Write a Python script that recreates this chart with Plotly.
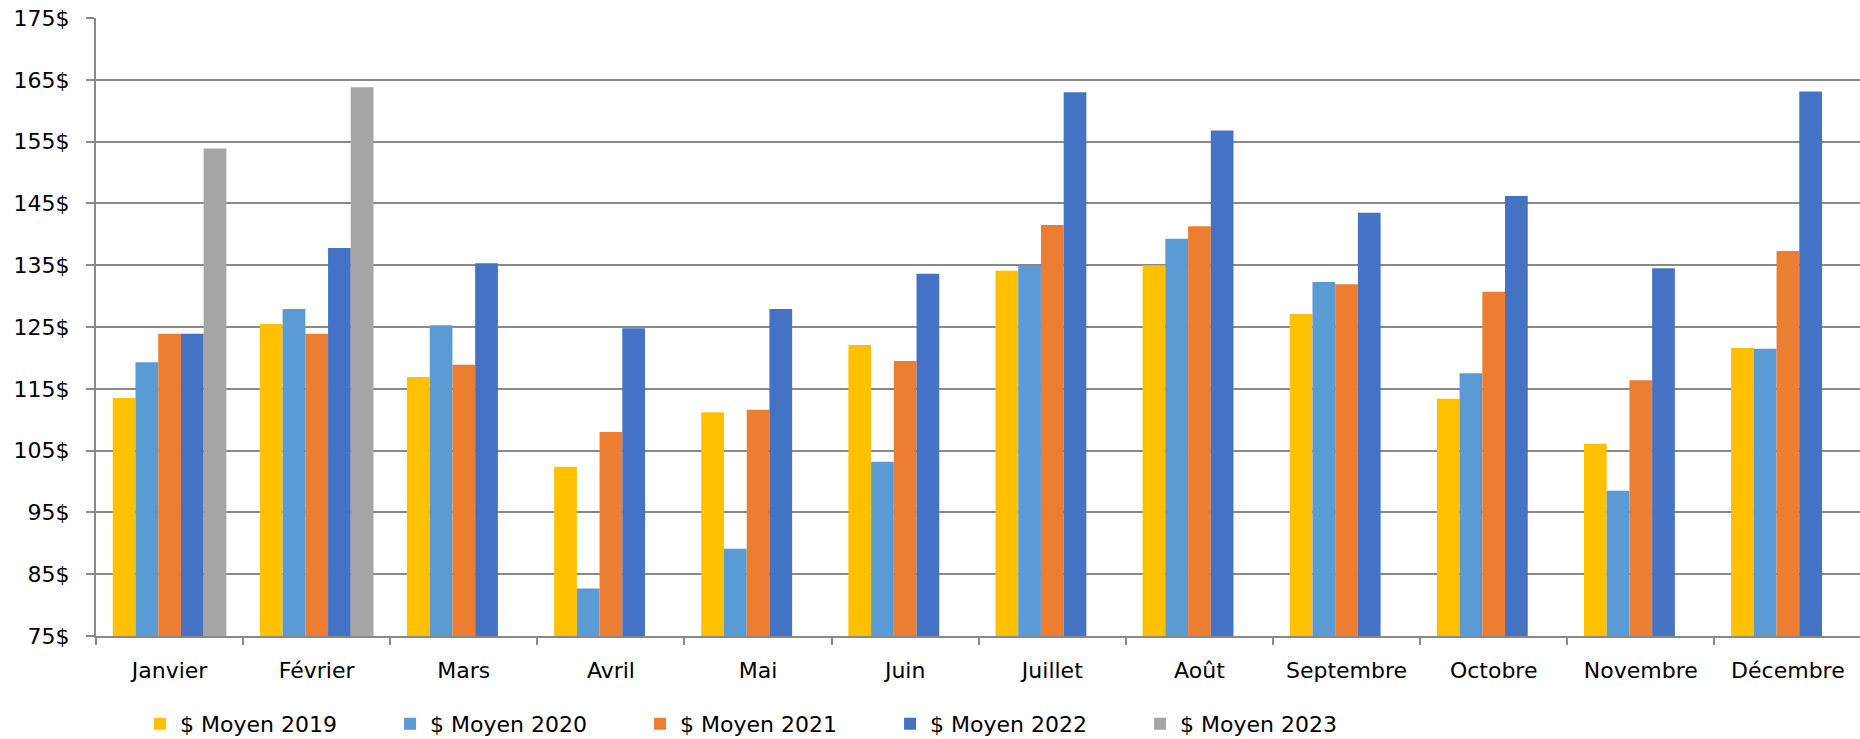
import plotly.graph_objects as go

# mois et prix moyens par annee
mois = ["Janvier", "Février", "Mars", "Avril", "Mai", "Juin", "Juillet",
        "Août", "Septembre", "Octobre", "Novembre", "Décembre"]

moyen_2019 = [113.5, 125.5, 116.9, 102.4, 111.2, 122.1, 134.1, 135.0, 127.1, 113.4, 106.1, 121.6]
moyen_2020 = [119.3, 127.9, 125.3, 82.7, 89.1, 103.2, 134.9, 139.3, 132.3, 117.5, 98.5, 121.5]
moyen_2021 = [123.9, 123.9, 118.9, 108.0, 111.6, 119.5, 141.5, 141.3, 131.9, 130.7, 116.4, 137.3]
moyen_2022 = [123.9, 137.8, 135.3, 124.8, 127.9, 133.6, 163.0, 156.8, 143.5, 146.2, 134.5, 163.1]
moyen_2023 = [153.9, 163.8, None, None, None, None, None, None, None, None, None, None]

series = [
    ("$ Moyen 2019", moyen_2019, "#FFC000"),
    ("$ Moyen 2020", moyen_2020, "#5B9BD5"),
    ("$ Moyen 2021", moyen_2021, "#ED7D31"),
    ("$ Moyen 2022", moyen_2022, "#4472C4"),
    ("$ Moyen 2023", moyen_2023, "#A5A5A5"),
]

fig = go.Figure()
for nom, valeurs, couleur in series:
    fig.add_trace(go.Bar(x=mois, y=valeurs, name=nom,
                         marker=dict(color=couleur, line=dict(width=0))))

police = dict(family="DejaVu Sans", size=22, color="#000000")

fig.update_layout(
    width=1860, height=739,
    margin=dict(l=96, r=0, t=18, b=103),
    paper_bgcolor="white", plot_bgcolor="white",
    barmode="group", bargap=0.228, bargroupgap=0,
    font=police,
    showlegend=True,
    legend=dict(orientation="h", xref="container", yref="container",
                x=0.0753, y=0.0205, xanchor="left", yanchor="middle",
                entrywidth=205, entrywidthmode="pixels",
                font=police, traceorder="normal"),
)

fig.update_xaxes(
    type="category", range=[-0.5, 11.49], automargin=False,
    showline=True, linecolor="#898989", linewidth=2,
    ticks="outside", tickson="boundaries", ticklen=7, tickcolor="#898989", tickwidth=2,
    ticklabelstandoff=14,
    showgrid=False, tickfont=police,
)
fig.update_yaxes(
    range=[75, 175], dtick=10, tick0=75, ticksuffix="$", automargin=False,
    showline=True, linecolor="#898989", linewidth=2,
    showgrid=True, gridcolor="#898989", gridwidth=2,
    ticks="outside", ticklen=8, tickcolor="#898989", tickwidth=2,
    ticklabelstandoff=12,
    zeroline=False, tickfont=police,
)

# pas de marge autour du graphique dans la page, pas de barre d'outils
fig.write_html("out.html", config={"displayModeBar": False},
               post_script="document.body.style.margin = '0';")
